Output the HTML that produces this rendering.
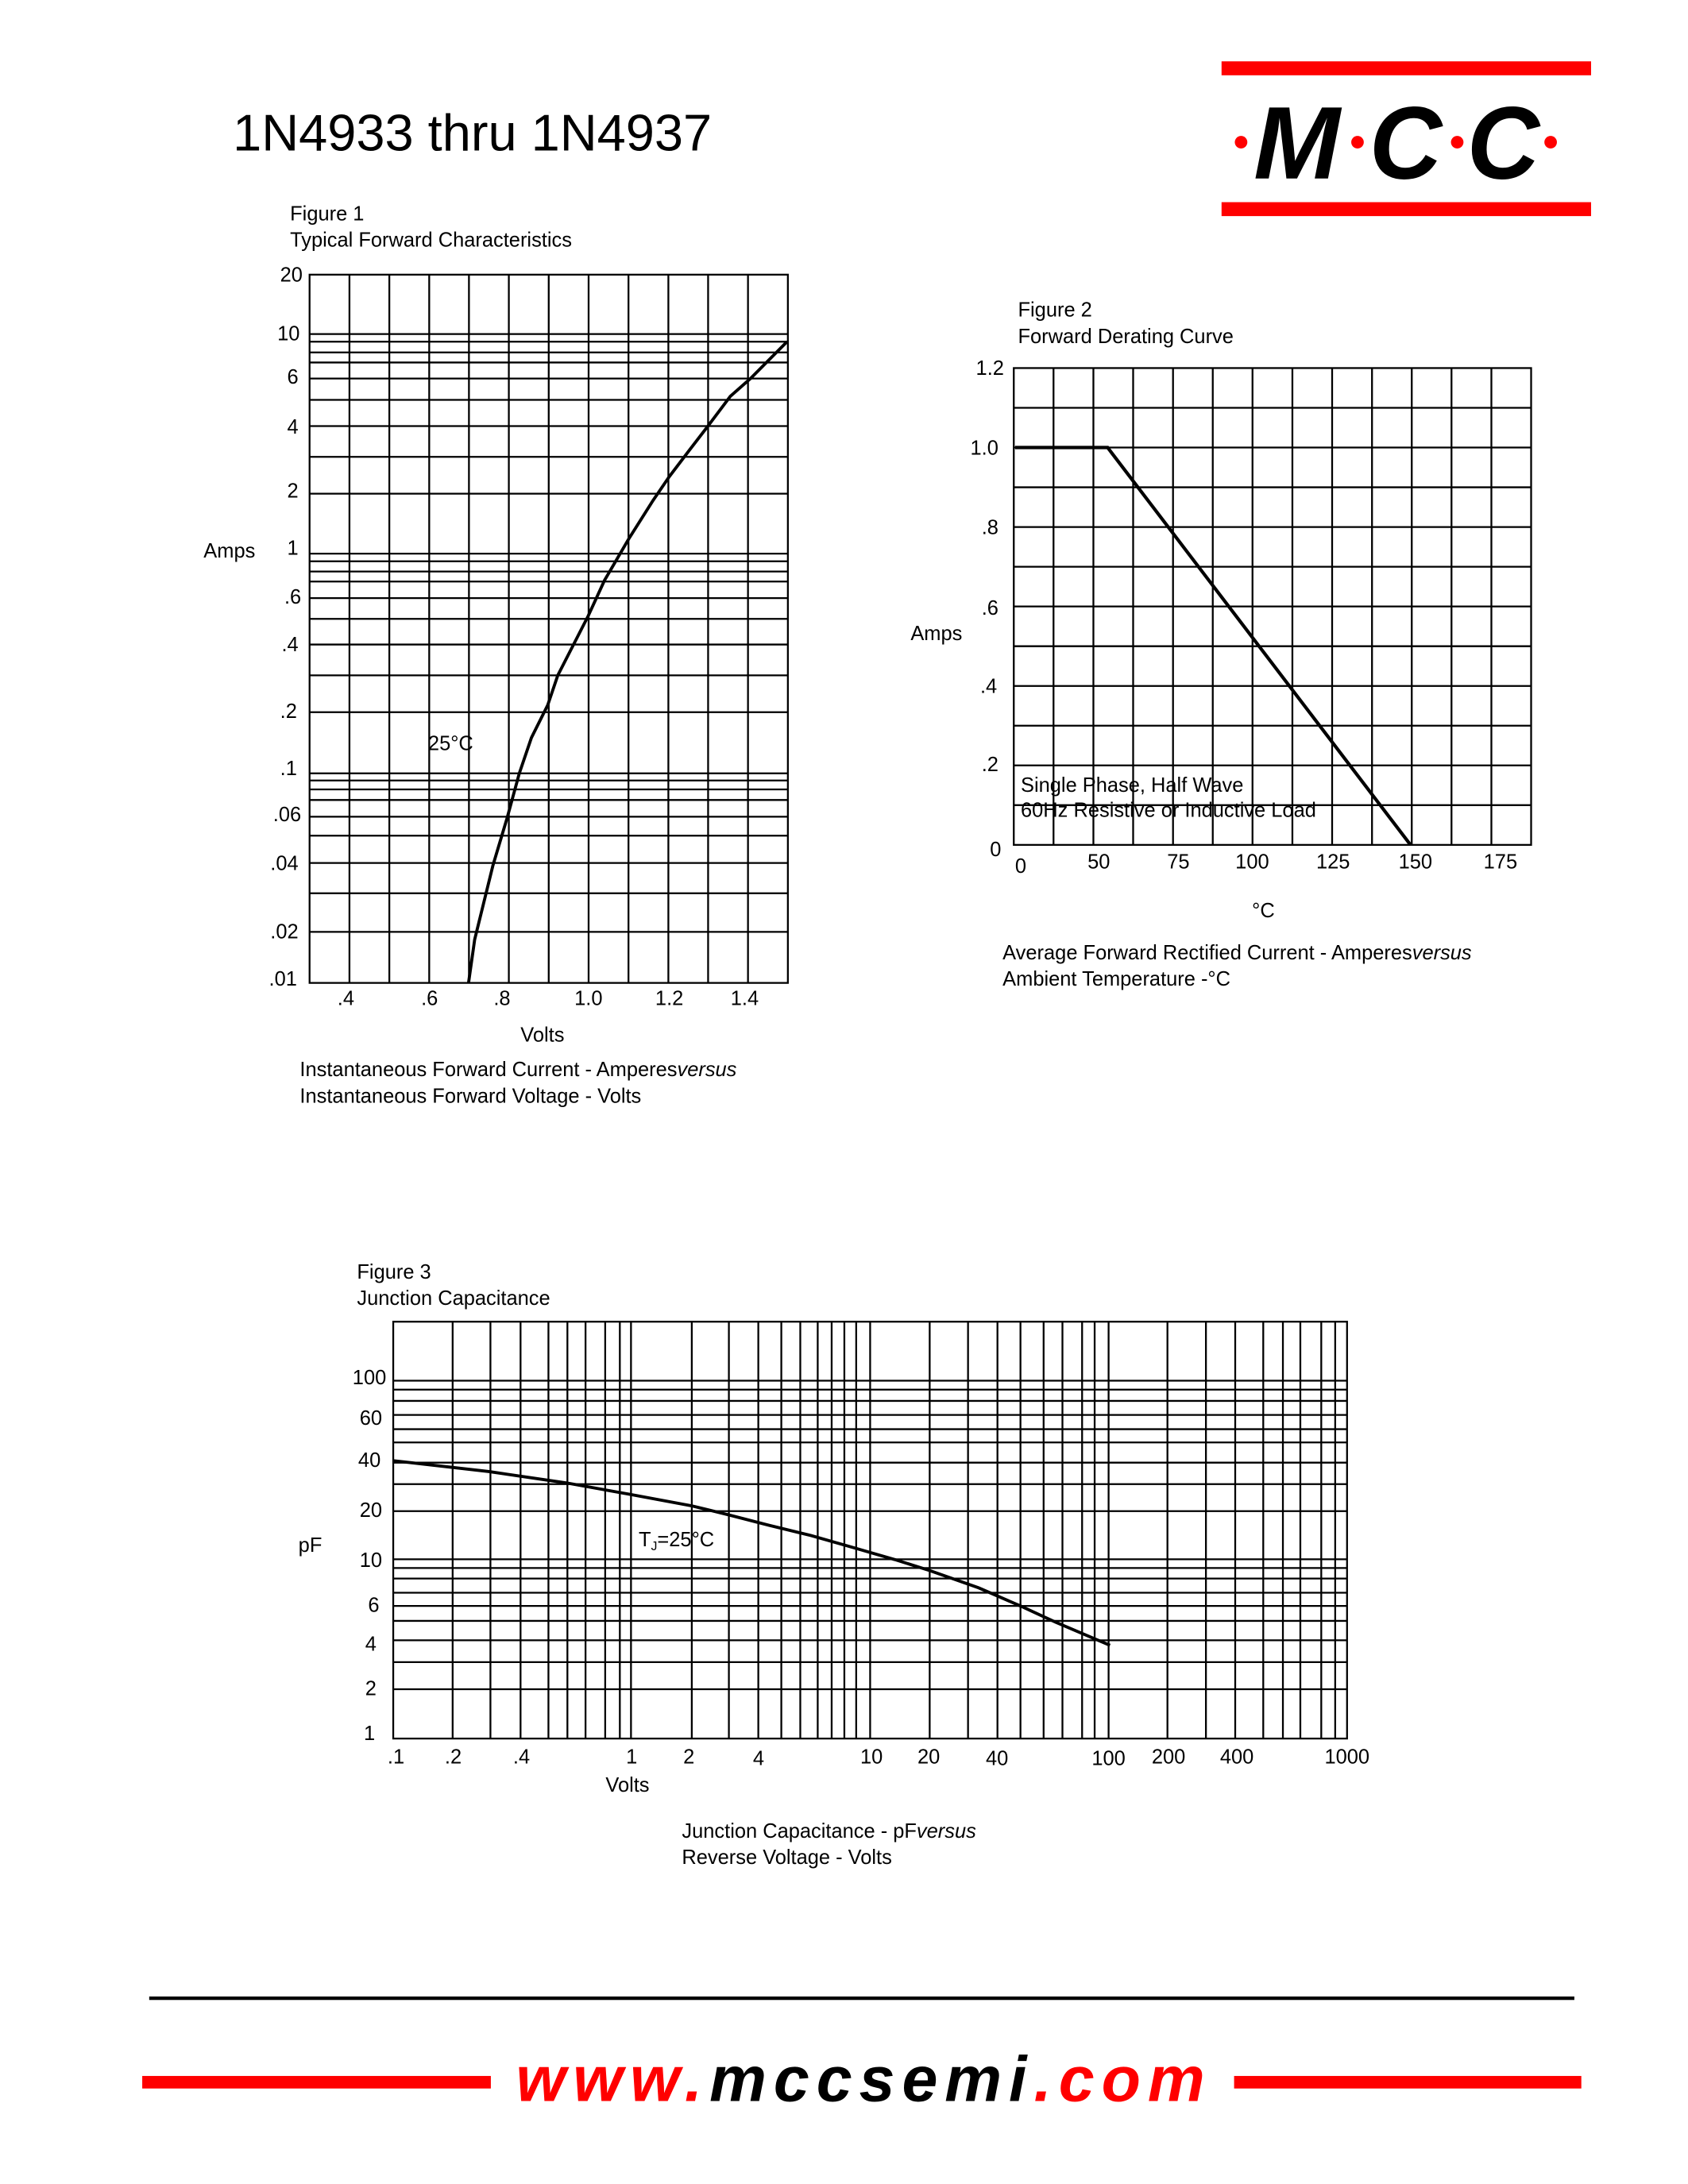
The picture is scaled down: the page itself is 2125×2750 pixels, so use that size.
<!DOCTYPE html>
<html><head><meta charset="utf-8"><style>html,body{margin:0;padding:0;background:#fff}svg{display:block}</style></head>
<body>
<svg xmlns="http://www.w3.org/2000/svg" width="2125" height="2750" viewBox="0 0 1210.5 1566.5" preserveAspectRatio="none" font-family="Liberation Sans, Arial, sans-serif">
<rect width="1224" height="1584" fill="#fff"/>
<!-- header -->
<text x="167" y="108" font-size="37" fill="#000">1N4933 thru 1N4937</text>
<rect x="876" y="44" width="265" height="10" fill="#f00"/>
<rect x="876" y="145" width="265" height="10" fill="#f00"/>
<text x="899" y="128" font-size="74" font-weight="bold" font-style="italic" fill="#000" textLength="62" lengthAdjust="spacingAndGlyphs">M</text>
<text x="982" y="128" font-size="74" font-weight="bold" font-style="italic" fill="#000" textLength="52" lengthAdjust="spacingAndGlyphs">C</text>
<text x="1052" y="128" font-size="74" font-weight="bold" font-style="italic" fill="#000" textLength="52" lengthAdjust="spacingAndGlyphs">C</text>
<circle cx="890" cy="102" r="4.5" fill="#f00"/>
<circle cx="973.5" cy="102" r="4.5" fill="#f00"/>
<circle cx="1045" cy="102" r="4.5" fill="#f00"/>
<circle cx="1112" cy="102" r="4.5" fill="#f00"/>

<!-- Figure 1 -->
<g font-size="14.5" fill="#000">
<text x="208" y="158">Figure 1</text>
<text x="208" y="177">Typical Forward Characteristics</text>
</g>
<g stroke="#000" stroke-width="1.3" fill="none">
<rect x="222" y="197" width="343" height="508"/>
<path d="M250.6 197V705M279.2 197V705M307.8 197V705M336.3 197V705M364.9 197V705M393.5 197V705M422.1 197V705M450.7 197V705M479.3 197V705M507.8 197V705M536.4 197V705"/>
<path d="M222 239.6H565M222 245.1H565M222 252.8H565M222 260H565M222 271.5H565M222 286.8H565M222 305.6H565M222 327.7H565M222 354.1H565M222 397.1H565M222 402.6H565M222 409.9H565M222 417.1H565M222 429H565M222 443.9H565M222 462.3H565M222 484.4H565M222 510.8H565M222 554.7H565M222 559.8H565M222 566.2H565M222 573.8H565M222 585.8H565M222 599.4H565M222 619H565M222 640.7H565M222 668.4H565"/>
<polyline stroke-width="2.2" points="336,705 340.4,673.9 353.5,620.7 363.7,586.6 372.4,554.7 381.1,529.1 392.8,505.7 400,484.4 421.8,441.8 433.5,416.3 450.9,386.5 468.4,358.8 480,341.8 494.6,322.6 507.7,305.6 523.7,284.3 538.2,271.5 564.4,245.1"/>
</g>
<g font-size="14.5" fill="#000" text-anchor="end">
<text x="217" y="202">20</text><text x="215" y="244">10</text><text x="214" y="275">6</text><text x="214" y="311">4</text>
<text x="214" y="357">2</text><text x="214" y="398">1</text><text x="216" y="433">.6</text><text x="214" y="467">.4</text>
<text x="213" y="515">.2</text><text x="213" y="556">.1</text><text x="216" y="589">.06</text><text x="214" y="624">.04</text>
<text x="214" y="673">.02</text><text x="213" y="707">.01</text>
</g>
<g font-size="14.5" fill="#000" text-anchor="middle">
<text x="248" y="721">.4</text><text x="308" y="721">.6</text><text x="360" y="721">.8</text><text x="422" y="721">1.0</text>
<text x="480" y="721">1.2</text><text x="534" y="721">1.4</text>
<text x="389" y="747">Volts</text>
</g>
<text x="146" y="400" font-size="14.5">Amps</text>
<text x="307" y="538" font-size="14.5">25°C</text>
<text x="215" y="772" font-size="14.5">Instantaneous Forward Current - Amperes<tspan font-style="italic">versus</tspan></text>
<text x="215" y="791" font-size="14.5">Instantaneous Forward Voltage - Volts</text>

<!-- Figure 2 -->
<g font-size="14.5" fill="#000">
<text x="730" y="227">Figure 2</text>
<text x="730" y="246">Forward Derating Curve</text>
</g>
<g stroke="#000" stroke-width="1.3" fill="none">
<rect x="727" y="264" width="371" height="342"/>
<path d="M755.5 264V606M784.1 264V606M812.6 264V606M841.2 264V606M869.7 264V606M898.2 264V606M926.8 264V606M955.3 264V606M983.9 264V606M1012.4 264V606M1040.9 264V606M1069.5 264V606"/>
<path d="M727 292.5H1098M727 321H1098M727 349.5H1098M727 378H1098M727 406.5H1098M727 435H1098M727 463.5H1098M727 492H1098M727 520.5H1098M727 549H1098M727 577.5H1098"/>
<polyline stroke-width="2.4" points="728,321 794.3,321 1011.5,606"/>
</g>
<g font-size="14.5" fill="#000" text-anchor="end">
<text x="720" y="269">1.2</text><text x="716" y="326">1.0</text><text x="716" y="383">.8</text><text x="716" y="441">.6</text>
<text x="715" y="497">.4</text><text x="716" y="553">.2</text><text x="718" y="614">0</text>
</g>
<g font-size="14.5" fill="#000" text-anchor="middle">
<text x="732" y="626">0</text><text x="788" y="623">50</text><text x="845" y="623">75</text><text x="898" y="623">100</text>
<text x="956" y="623">125</text><text x="1015" y="623">150</text><text x="1076" y="623">175</text>
<text x="906" y="658">°C</text>
</g>
<text x="653" y="459" font-size="14.5">Amps</text>
<text x="732" y="568" font-size="14.5">Single Phase, Half Wave</text>
<text x="732" y="586" font-size="14.5">60Hz Resistive or Inductive Load</text>
<text x="719" y="688" font-size="14.5">Average Forward Rectified Current  -  Amperes<tspan font-style="italic">versus</tspan></text>
<text x="719" y="707" font-size="14.5">Ambient Temperature  -°C</text>

<!-- Figure 3 -->
<g font-size="14.5" fill="#000">
<text x="256" y="917">Figure 3</text>
<text x="256" y="936">Junction Capacitance</text>
</g>
<g stroke="#000" stroke-width="1.3" fill="none">
<rect x="282" y="948" width="684" height="299"/>
<path d="M324.6 948V1247M351.7 948V1247M373.3 948V1247M393.3 948V1247M406.9 948V1247M419.9 948V1247M434 948V1247M444.5 948V1247M452.5 948V1247M496.1 948V1247M522.7 948V1247M543.8 948V1247M560.3 948V1247M573.9 948V1247M586.4 948V1247M596.4 948V1247M605.5 948V1247M614 948V1247M624 948V1247M666.7 948V1247M694.2 948V1247M715.3 948V1247M731.8 948V1247M748.4 948V1247M761.9 948V1247M776 948V1247M785 948V1247M795 948V1247M837.2 948V1247M864.8 948V1247M885.8 948V1247M905.9 948V1247M920 948V1247M932.5 948V1247M947.5 948V1247M957.5 948V1247"/>
<path d="M282 990.3H966M282 996.7H966M282 1004.8H966M282 1014.9H966M282 1025.1H966M282 1034.6H966M282 1049.1H966M282 1064.5H966M282 1083.9H966M282 1118.4H966M282 1124.7H966M282 1132.2H966M282 1142.4H966M282 1151.9H966M282 1162.6H966M282 1176.5H966M282 1192.2H966M282 1211.6H966"/>
<polyline stroke-width="2.2" points="282,1047.7 350.7,1055.5 405.9,1063.6 451,1071.7 496.1,1080.1 521.2,1086.2 551.3,1094 581.4,1101.3 611.5,1109.9 641.6,1118.6 666.7,1126.5 701.8,1138.9 731.8,1151.9 756.9,1163.5 796,1180.1"/>
</g>
<g font-size="14.5" fill="#000" text-anchor="end">
<text x="277" y="993">100</text><text x="274" y="1022">60</text><text x="273" y="1052">40</text><text x="274" y="1088">20</text>
<text x="274" y="1124">10</text><text x="272" y="1156">6</text><text x="270" y="1184">4</text><text x="270" y="1216">2</text><text x="269" y="1248">1</text>
</g>
<g font-size="14.5" fill="#000" text-anchor="middle">
<text x="284" y="1265">.1</text><text x="325" y="1265">.2</text><text x="374" y="1265">.4</text><text x="453" y="1265">1</text>
<text x="494" y="1265">2</text><text x="544" y="1266">4</text><text x="625" y="1265">10</text><text x="666" y="1265">20</text>
<text x="715" y="1266">40</text><text x="795" y="1266">100</text><text x="838" y="1265">200</text><text x="887" y="1265">400</text>
<text x="966" y="1265">1000</text>
<text x="450" y="1285">Volts</text>
</g>
<text x="214" y="1113" font-size="14.5">pF</text>
<text x="458" y="1109" font-size="14.5">T<tspan font-size="9" dy="3">J</tspan><tspan dy="-3">=25°C</tspan></text>
<text x="489" y="1318" font-size="14.5">Junction Capacitance - pF<tspan font-style="italic">versus</tspan></text>
<text x="489" y="1337" font-size="14.5">Reverse Voltage - Volts</text>

<!-- footer -->
<rect x="107" y="1432" width="1022" height="2.5" fill="#000"/>
<rect x="102" y="1489" width="250" height="9" fill="#f00"/>
<rect x="885" y="1489" width="249" height="9" fill="#f00"/>
<text x="370" y="1507" font-size="46" font-weight="bold" font-style="italic" letter-spacing="6" textLength="500"><tspan fill="#f00">www.</tspan><tspan fill="#000">mccsemi</tspan><tspan fill="#f00">.com</tspan></text>
</svg>
</body></html>
